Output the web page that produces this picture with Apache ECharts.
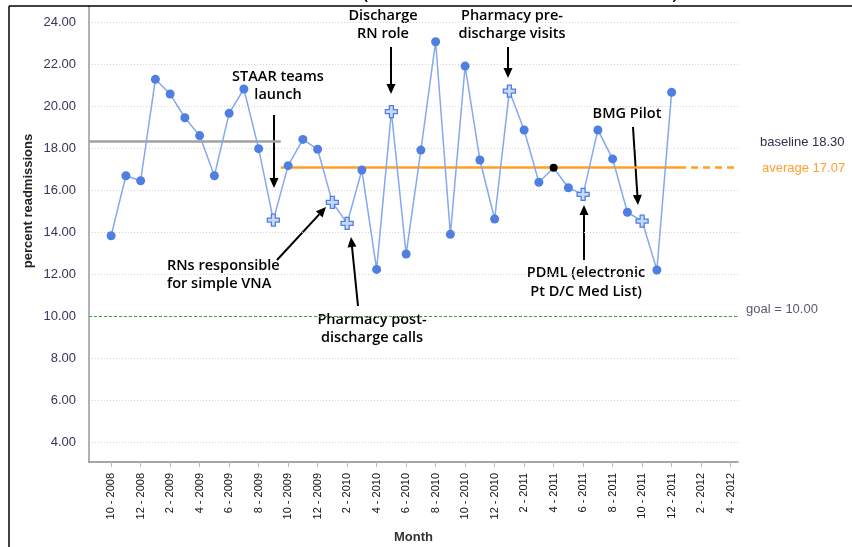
<!DOCTYPE html>
<html><head><meta charset="utf-8">
<script src="https://cdn.jsdelivr.net/npm/echarts@6/dist/echarts.min.js"></script>
<style>html,body{margin:0;padding:0;background:#fff}#c{width:852px;height:547px}</style>
</head><body><div id="c"></div>
<script>
// months with data (10 - 2008 .. 12 - 2011)
const months = ['10 - 2008','11 - 2008','12 - 2008','1 - 2009','2 - 2009','3 - 2009','4 - 2009','5 - 2009','6 - 2009','7 - 2009','8 - 2009','9 - 2009',
  '10 - 2009','11 - 2009','12 - 2009','1 - 2010','2 - 2010','3 - 2010','4 - 2010','5 - 2010','6 - 2010','7 - 2010','8 - 2010','9 - 2010',
  '10 - 2010','11 - 2010','12 - 2010','1 - 2011','2 - 2011','3 - 2011','4 - 2011','5 - 2011','6 - 2011','7 - 2011','8 - 2011','9 - 2011',
  '10 - 2011','11 - 2011','12 - 2011'];
const readmissions = [13.82,16.68,16.44,21.27,20.57,19.44,18.59,16.68,19.65,20.81,17.97,14.57,
  17.16,18.41,17.94,15.41,14.41,16.95,12.22,19.73,12.95,17.90,23.06,13.89,
  21.90,17.43,14.62,20.71,18.86,16.37,17.06,16.11,15.79,18.86,17.48,14.94,
  14.52,12.19,20.65];
const tickLabels = ['10 - 2008','12 - 2008','2 - 2009','4 - 2009','6 - 2009','8 - 2009','10 - 2009','12 - 2009','2 - 2010','4 - 2010','6 - 2010',
  '8 - 2010','10 - 2010','12 - 2010','2 - 2011','4 - 2011','6 - 2011','8 - 2011','10 - 2011','12 - 2011','2 - 2012','4 - 2012'];
const yTicks = [4,6,8,10,12,14,16,18,20,22,24];
const interventionMonths = ['9 - 2009','1 - 2010','2 - 2010','5 - 2010','1 - 2011','6 - 2011','10 - 2011'];
const highlightMonth = '4 - 2011';
const baseline = 18.30, average = 17.07, goal = 10.00;
const averageStart = '10 - 2009';

const xMin = -1.5, xMax = tickLabels.length * 2 - 1.5;
const split = months.indexOf(averageStart) - 0.5;
const lastEdge = months.length - 0.5;
const crossPath = 'path://M4,0H8V4H12V8H8V12H4V8H0V4H4Z';

const data = months.map((m, i) => {
  const d = { value: [i, readmissions[i]] };
  if (interventionMonths.includes(m)) {
    d.symbol = crossPath; d.symbolSize = 12;
    d.itemStyle = { color: '#c9d9fa', borderColor: '#4f7fe0', borderWidth: 1.3 };
  } else if (m === highlightMonth) {
    d.itemStyle = { color: '#000' }; d.symbolSize = 8;
  }
  return d;
});

function arrow(x1, y1, x2, y2) {
  const dx = x2 - x1, dy = y2 - y1, len = Math.hypot(dx, dy), ux = dx / len, uy = dy / len;
  const hl = 10, hw = 4.5, bx = x2 - ux * hl, by = y2 - uy * hl;
  return [
    { type: 'line', shape: { x1, y1, x2: bx, y2: by }, style: { stroke: '#000', lineWidth: 2 } },
    { type: 'polygon', shape: { points: [[x2, y2], [bx - uy * hw, by + ux * hw], [bx + uy * hw, by - ux * hw]] }, style: { fill: '#000' } }
  ];
}
function note(text, x, y, align, lh) {
  return { type: 'text', x, y, style: { text, font: '600 14.5px "Open Sans"', fill: '#000', align: align || 'center', verticalAlign: 'middle', lineHeight: lh || 18 } };
}

const chart = echarts.init(document.getElementById('c'), null, { renderer: 'canvas' });
chart.setOption({
  animation: false,
  grid: { left: 89, right: 114, top: 6, bottom: 85, containLabel: false, outerBoundsMode: 'none' },
  xAxis: {
    type: 'value', min: xMin, max: xMax,
    name: 'Month', nameLocation: 'middle', nameGap: 69,
    nameTextStyle: { fontFamily: 'Liberation Sans', fontWeight: 'bold', fontSize: 13, color: '#333' },
    axisLine: { show: true, onZero: false, lineStyle: { color: '#8a8a8a', width: 1.5 } },
    axisTick: { show: true, length: 5, lineStyle: { color: '#bbb' }, customValues: tickLabels.map((t, i) => i * 2) },
    axisLabel: { rotate: 90, margin: 11, fontFamily: 'Liberation Sans', fontSize: 11, color: '#111',
      customValues: tickLabels.map((t, i) => i * 2), formatter: v => tickLabels[Math.round(v / 2)] },
    splitLine: { show: false }
  },
  yAxis: {
    type: 'value', min: 3.048, max: 24.762,
    axisLine: { show: true, onZero: false, lineStyle: { color: '#999', width: 1.5 } },
    axisTick: { show: false, customValues: yTicks },
    axisLabel: { margin: 13, fontFamily: 'Liberation Sans', fontSize: 13, color: '#35355a',
      customValues: yTicks, formatter: v => v.toFixed(2) },
    splitLine: { show: true, lineStyle: { color: '#d4d4d4', type: [1, 2], width: 1 } }
  },
  series: [{
    type: 'line', data, symbol: 'circle', symbolSize: 9, showAllSymbol: true,
    lineStyle: { color: '#86a8ee', width: 1.5 },
    itemStyle: { color: '#4f7fe0' },
    z: 5,
    markLine: {
      silent: true, symbol: 'none', label: { show: false }, z: 3,
      data: [
        [{ coord: [xMin, baseline], lineStyle: { color: '#a0a0a0', width: 2.5, type: 'solid' } }, { coord: [split, baseline] }],
        [{ coord: [split, average], lineStyle: { color: '#ffa024', width: 2.5, type: 'solid' } }, { coord: [lastEdge, average] }],
        [{ coord: [lastEdge, average], lineStyle: { color: '#ffa024', width: 2.5, type: [7, 5] } }, { coord: [xMax, average] }],
        [{ coord: [xMin, goal], lineStyle: { color: '#3aa63a', width: 1, type: [3, 2] } }, { coord: [xMax, goal] }]
      ]
    }
  }],
  graphic: [
    { type: 'line', shape: { x1: 9, y1: 6, x2: 852, y2: 6 }, style: { stroke: '#000', lineWidth: 1.5 }, z: 10 },
    { type: 'line', shape: { x1: 9, y1: 6, x2: 9, y2: 547 }, style: { stroke: '#000', lineWidth: 1.5 }, z: 10 },
    { type: 'text', x: 362, y: 4, style: { text: '(', font: '22px "Open Sans"', fill: '#000', verticalAlign: 'bottom' } },
    { type: 'text', x: 672, y: 4, style: { text: ')', font: '22px "Open Sans"', fill: '#000', verticalAlign: 'bottom' } },
    { type: 'text', x: 28, y: 201, rotation: Math.PI / 2,
      style: { text: 'percent readmissions', font: 'bold 13px "Liberation Sans"', fill: '#222', align: 'center', verticalAlign: 'middle' } },
    { type: 'text', x: 760, y: 142, style: { text: 'baseline 18.30', font: '13px "Liberation Sans"', fill: '#2d2d4d', verticalAlign: 'middle' } },
    { type: 'text', x: 762, y: 168, style: { text: 'average 17.07', font: '13px "Liberation Sans"', fill: '#ffa030', verticalAlign: 'middle' } },
    { type: 'text', x: 746, y: 309, style: { text: 'goal = 10.00', font: '13px "Liberation Sans"', fill: '#5a5a70', verticalAlign: 'middle' } },
    note('STAAR teams\nlaunch', 278, 86),
    note('Discharge\nRN role', 383, 25),
    note('Pharmacy pre-\ndischarge visits', 512, 25),
    note('BMG Pilot', 627, 114),
    note('RNs responsible\nfor simple VNA', 167, 275, 'left'),
    note('Pharmacy post-\ndischarge calls', 372, 328.5),
    note('PDML (electronic\nPt D/C Med List)', 586, 282.5, 'center', 19),
    ...arrow(274, 115, 274, 188),
    ...arrow(391, 47, 391, 94),
    ...arrow(508, 47, 508, 78),
    ...arrow(633, 127, 638, 205),
    ...arrow(277, 260, 326, 207),
    ...arrow(358, 306, 351, 237),
    ...arrow(584, 260, 584, 205)
  ]
});
</script></body></html>
